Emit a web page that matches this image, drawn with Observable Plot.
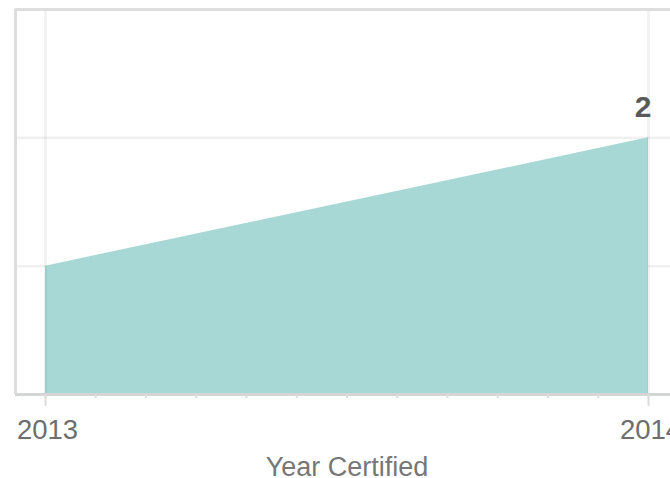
<!DOCTYPE html>
<html>
<head>
<meta charset="utf-8">
<script src="https://cdn.jsdelivr.net/npm/d3@7"></script>
<script src="https://cdn.jsdelivr.net/npm/@observablehq/plot@0.6"></script>
<style>
  html, body { margin: 0; padding: 0; background: #fff; }
  #chart { width: 670px; height: 478px; overflow: hidden; }
</style>
</head>
<body>
<div id="chart"></div>
<script>
// Data
const years = [2013, 2014];
const counts = [1, 2];
const yGridValues = [1, 2];
const tickLabels = ["2013", "2014"];
const axisTitle = "Year Certified";
const XMIN = 2013 - 30 / 603;   // view extends a little before the first year
const XMAX = 2014 + 22 / 603;   // and a little past the last year
const YMAX = 3;
const monthTicks = d3.range(0, 13).map(i => 2013 + i / 12);

const data = years.map((y, i) => ({year: y, count: counts[i], label: tickLabels[i]}));
const last = data[data.length - 1];

const chart = Plot.plot({
  width: 670,
  height: 478,
  marginLeft: 15,
  marginRight: 0,
  marginTop: 9,
  marginBottom: 84,
  style: {fontFamily: "'Liberation Sans', Arial, sans-serif", background: "#fff", color: "#707070"},
  x: {domain: [XMIN, XMAX], label: null},
  y: {domain: [0, YMAX], axis: null, label: null},
  marks: [
    Plot.gridY(yGridValues, {stroke: "#000", strokeOpacity: 0.06, strokeWidth: 2.5}),
    Plot.areaY(data, {x: "year", y: "count", fill: "#a8d8d5", curve: "linear"}),
    Plot.gridX(years, {stroke: "#000", strokeOpacity: 0.05, strokeWidth: 3}),
    Plot.ruleY([0], {stroke: "#d4d6d6", strokeWidth: 3}),
    Plot.ruleY([YMAX], {stroke: "#dedede", strokeWidth: 3}),
    Plot.ruleX([XMIN], {stroke: "#dedede", strokeWidth: 3}),
    Plot.axisX(monthTicks, {tickSize: 4, stroke: "#dcdcdc", strokeWidth: 2, tickFormat: () => "", label: null}),
    Plot.axisX(years, {tickSize: 12, stroke: "#dcdcdc", strokeWidth: 2, tickFormat: () => "", label: null}),
    Plot.text(data, {x: "year", y: 0, text: "label", dy: 44, dx: 2, lineAnchor: "bottom", fontSize: 27.5, fill: "#6e6e6e"}),
    Plot.text([axisTitle], {x: () => d3.mean(years), y: 0, text: d => d, dy: 81, lineAnchor: "bottom", fontSize: 27, fill: "#777"}),
    Plot.text([last], {x: "year", y: "count", text: d => String(d.count), dy: -21, dx: 3, textAnchor: "end", lineAnchor: "bottom", fontSize: 30, fontWeight: "bold", fill: "#5a5a5a"})
  ]
});
document.getElementById("chart").appendChild(chart);
</script>
</body>
</html>
